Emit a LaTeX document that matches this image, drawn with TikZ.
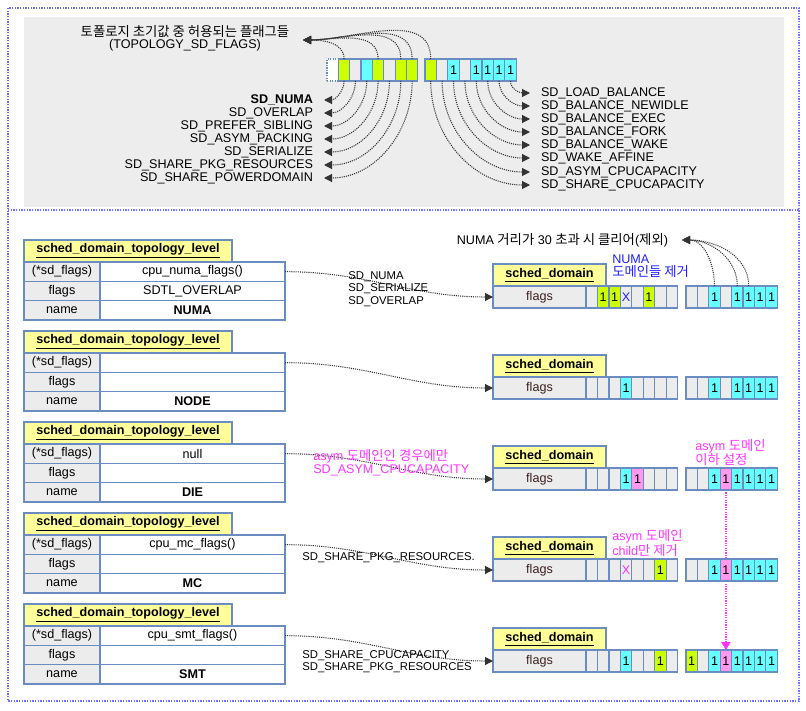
\documentclass[tikz,border=0pt]{standalone}
\usepackage{fontspec}
\setmainfont{Liberation Sans}
\newfontfamily\kr[Scale=1.06]{Noto Sans CJK KR}
\usetikzlibrary{arrows.meta,backgrounds}
\definecolor{cgray}{HTML}{ECECEC}
\definecolor{cgreen}{HTML}{CCFF00}
\definecolor{ccyan}{HTML}{66FFFF}
\definecolor{cpink}{HTML}{FF99EE}
\definecolor{cmag}{HTML}{FF33FF}
\definecolor{cborder}{HTML}{6A8CC0}
\definecolor{cyellow}{HTML}{FFFF99}
\definecolor{cblue}{HTML}{1F1FFF}
\definecolor{cframe}{HTML}{7070FF}
\definecolor{cbg}{HTML}{EDEDED}
\definecolor{cflags}{HTML}{3B2020}
\begin{document}
\begin{tikzpicture}[x=0.75pt,y=-0.75pt,
  every node/.style={font=\fontsize{9.45}{9.8}\selectfont},
  cell/.style={draw=cborder, line width=0.9pt, fill=cgray, minimum width=8.55pt, minimum height=16.5pt,
    inner sep=0pt, outer sep=0pt, anchor=north west, /utils/exec={\def\ct{}}},
  c-g/.style={fill=cgray},
  c-w/.style={fill=white, densely dotted},
  c-n/.style={fill=cgreen},
  c-c/.style={fill=ccyan},
  c-G/.style={fill=cgreen, /utils/exec={\def\ct{1}}},
  c-C/.style={fill=ccyan, /utils/exec={\def\ct{1}}},
  c-P/.style={fill=cpink, /utils/exec={\def\ct{1}}},
  c-x/.style={fill=cgray, text=cblue, /utils/exec={\def\ct{X}}},
  c-m/.style={fill=cgray, text=cmag, /utils/exec={\def\ct{X}}},
  hdr/.style={draw=cborder, line width=0.9pt, fill=cyellow, minimum width=156pt, minimum height=16.5pt,
    inner sep=0pt, outer sep=0pt, anchor=north west, font=\fontsize{9.45}{9.8}\selectfont\bfseries},
  lcol/.style={draw=cborder, line width=0.9pt, fill=cgray, minimum width=57pt, minimum height=14.5pt,
    inner sep=0pt, outer sep=0pt, anchor=north west},
  rcol/.style={draw=cborder, line width=0.9pt, fill=white, minimum width=138.75pt, minimum height=14.5pt,
    inner sep=0pt, outer sep=0pt, anchor=north west},
  sdh/.style={draw=cborder, line width=0.9pt, fill=cyellow, minimum width=84.75pt, minimum height=16.5pt,
    inner sep=0pt, outer sep=0pt, anchor=north west, font=\fontsize{9.45}{9.8}\selectfont\bfseries},
  sdf/.style={draw=cborder, line width=0.9pt, fill=cgray, minimum width=69.75pt, minimum height=16.5pt,
    inner sep=0pt, outer sep=0pt, anchor=north west, text=cflags},
  conn/.style={draw=black!80, line width=0.8pt, dash pattern=on 0.8pt off 0.8pt,
    -{Triangle[length=6pt,width=6pt]}},
  labL/.style={anchor=east, inner sep=0pt, outer xsep=8.25pt},
  labR/.style={anchor=west, inner sep=0pt, outer xsep=8.25pt},
  note/.style={anchor=west, inner sep=0pt, align=left},
  small/.style={font=\fontsize{8.5}{9.3}\selectfont}
]
\useasboundingbox (0,0) rectangle (806,710);
% frame and top panel
\draw[cframe, line width=1pt, dash pattern=on 1pt off 1pt] (8,8) rectangle (799,701);
\draw[cframe, line width=1pt, dash pattern=on 1pt off 1pt] (8,210) -- (799,210);
\fill[cbg] (24,17) rectangle (784,207);

% top title
\node[align=center, inner sep=0pt, font=\fontsize{9.45}{8.8}\selectfont] (title) at (185,38)
  {{\kr 토폴로지 초기값 중 허용되는 플래그들}\\(TOPOLOGY\_SD\_FLAGS)};
\coordinate (ttip) at (303,40);

% top cells
\foreach \s [count=\k from 0] in {w,n,g,c,n,g,n,n}
  \node[cell, c-\s] (tl\k) at ({327+11.35*\k},59) {\ct};
\foreach \s [count=\k from 0] in {n,g,C,g,C,C,C,C}
  \node[cell, c-\s] (tr\k) at ({425+11.4*\k},59) {\ct};

% left labels
\foreach \k/\t/\y in {1/{\textbf{SD\_NUMA}}/100, 2/SD\_OVERLAP/113, 3/SD\_PREFER\_SIBLING/126,
    4/SD\_ASYM\_PACKING/139, 5/SD\_SERIALIZE/152, 6/SD\_SHARE\_PKG\_RESOURCES/165,
    7/SD\_SHARE\_POWERDOMAIN/178}{
  \node[labL] (ll\k) at (324,\y) {\t};
  \draw[conn] (tl\k.south) to[out=-90,in=0] (ll\k.east);
}
% right labels
\foreach \k/\t/\y in {7/SD\_LOAD\_BALANCE/93, 6/SD\_BALANCE\_NEWIDLE/106, 5/SD\_BALANCE\_EXEC/119,
    4/SD\_BALANCE\_FORK/132, 3/SD\_BALANCE\_WAKE/145, 2/SD\_WAKE\_AFFINE/158,
    1/SD\_ASYM\_CPUCAPACITY/172, 0/SD\_SHARE\_CPUCAPACITY/185}{
  \node[labR] (rl\k) at (530,\y) {\t};
  \draw[conn] (tr\k.south) to[out=-90,in=180] (rl\k.west);
}
% allowed flags to title
\foreach \n in {tl1,tl4,tl6,tl7,tr0}
  \draw[conn] (\n.north) to[out=90,in=0] (ttip);

% topology level tables
\foreach \i/\fn/\fl/\nm in {0/cpu\_numa\_flags()/SDTL\_OVERLAP/NUMA, 1/{}/{}/NODE, 2/null/{}/DIE,
    3/cpu\_mc\_flags()/{}/MC, 4/cpu\_smt\_flags()/{}/SMT}{
  \pgfmathsetmacro\ty{240+91*\i}
  \node[hdr] (t\i-h) at (24,\ty) {\underline{sched\_domain\_topology\_level}};
  \node[lcol] (t\i-l1) at (24,\ty+22) {(*sd\_flags)};
  \node[rcol] (t\i-r1) at (100,\ty+22) {\fn};
  \node[lcol] (t\i-l2) at (24,\ty+41.33) {flags};
  \node[rcol] (t\i-r2) at (100,\ty+41.33) {\fl};
  \node[lcol] (t\i-l3) at (24,\ty+60.67) {name};
  \node[rcol] (t\i-r3) at (100,\ty+60.67) {\bfseries\nm};
}

% sched_domain boxes
\foreach \i/\la/\lb in {0/{g,G,G,x,g,G,g,g}/{g,g,C,g,C,C,C,C},
    1/{g,g,g,C,g,g,g,g}/{g,g,C,g,C,C,C,C},
    2/{g,g,g,C,P,g,g,g}/{g,g,C,P,C,C,C,C},
    3/{g,g,g,m,g,g,G,g}/{g,g,C,P,C,C,C,C},
    4/{g,g,g,C,g,g,G,g}/{G,g,C,P,C,C,C,C}}{
  \pgfmathsetmacro\sy{264+91*\i}
  \node[sdh] (s\i-h) at (493,\sy) {\underline{sched\_domain}};
  \node[sdf] (s\i-f) at (493,\sy+22) {flags};
  \foreach \s [count=\k from 0] in \la
    \node[cell, c-\s] (s\i-a\k) at ({586+11.45*\k},\sy+22) {\ct};
  \foreach \s [count=\k from 0] in \lb
    \node[cell, c-\s] (s\i-b\k) at ({686+11.4*\k},\sy+22) {\ct};
}

% connectors table -> sched_domain
\foreach \i in {0,...,4}
  \draw[conn] (t\i-r1.east) to[out=0,in=180] (s\i-f.west);

% connector labels
\node[note, small] (n0) at (348,289) {SD\_NUMA\\SD\_SERIALIZE\\SD\_OVERLAP};
\node[note, text=cmag] (n2) at (313,463) {asym {\kr 도메인인 경우에만}\\SD\_ASYM\_CPUCAPACITY};
\node[note, small] (n3) at (302,558) {SD\_SHARE\_PKG\_RESOURCES.};
\node[note, small] (n4) at (302,661.5) {SD\_SHARE\_CPUCAPACITY\\SD\_SHARE\_PKG\_RESOURCES};

% annotations
\node[anchor=east, inner sep=0pt, outer xsep=10.5pt] (numa) at (682,240)
  {NUMA {\kr 거리가} 30 {\kr 초과 시 클리어}({\kr 제외})};
\foreach \k in {2,4,5}
  \draw[conn] (s0-b\k.north) to[out=90,in=0] (numa.east);
\node[note, text=cblue] (nb) at (612,266.5) {NUMA\\{\kr 도메인들 제거}};
\node[note, text=cmag] (na) at (695,452.5) {asym {\kr 도메인}\\{\kr 이하 설정}};
\node[note, text=cmag] (nc) at (612,542.5) {asym {\kr 도메인}\\child{\kr 만 제거}};

\begin{pgfonlayer}{background}
  \draw[cmag, line width=0.9pt, dash pattern=on 0.9pt off 0.9pt, -{Triangle[length=6pt,width=7pt]}]
    (s2-b3.south) -- (s4-b3.north);
\end{pgfonlayer}
\end{tikzpicture}
\end{document}
